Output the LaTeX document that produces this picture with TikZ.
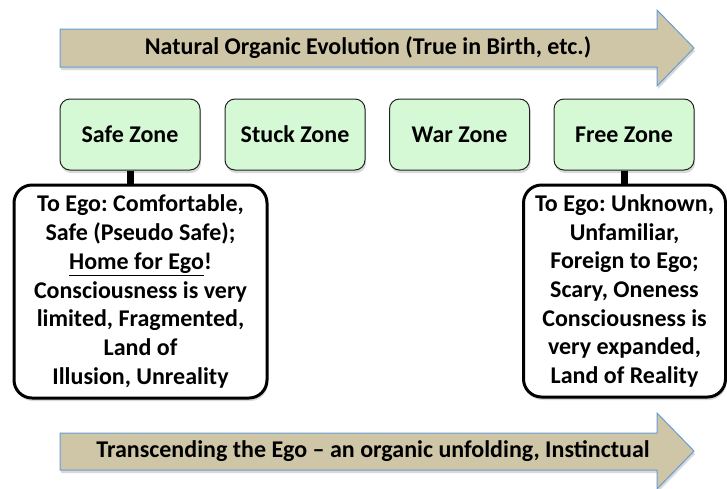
\documentclass[tikz,border=0pt]{standalone}
\usepackage{fontspec}
\setmainfont{Carlito}
\usetikzlibrary{shadows}
\definecolor{arrowfill}{HTML}{CEC6A6}
\definecolor{arrowline}{HTML}{6A9BD3}
\definecolor{zonefill}{HTML}{D5F9D5}
\definecolor{zoneline}{HTML}{222222}
\frenchspacing
\tikzset{
  txt/.style={font=\fontsize{24}{28.7}\selectfont\bfseries\frenchspacing, text=black},
  bigarrow/.style={fill=arrowfill, draw=arrowline, line width=1pt, line join=miter,
    drop shadow={shadow xshift=1pt, shadow yshift=-3pt, opacity=0.3}},
  zonebox/.style={txt, draw=zoneline, fill=zonefill, line width=1pt, rounded corners=10pt,
    minimum width=140pt, minimum height=71pt, inner sep=0pt,
    drop shadow={shadow xshift=1pt, shadow yshift=-3pt, opacity=0.3}},
  detailbox/.style={txt, draw=black, fill=white, line width=3pt, rounded corners=18pt,
    align=center, inner sep=0pt,
    drop shadow={shadow xshift=1pt, shadow yshift=-3pt, opacity=0.3}},
  link/.style={draw=black, line width=7pt}
}
\begin{document}
\begin{tikzpicture}[x=1pt, y=-1pt]
\useasboundingbox (0,0) rectangle (727,488);
% top arrow
\path[bigarrow] (60,29) -- (657,29) -- (657,10) -- (694,48) -- (657,86) -- (657,67) -- (60,67) -- cycle;
\node[txt] (toptext) at (368,48) {Natural Organic Evolution (True in Birth, etc.)};
% bottom arrow
\path[bigarrow] (60,433) -- (657,433) -- (657,413) -- (694,451) -- (657,489) -- (657,470) -- (60,470) -- cycle;
\node[txt] (bottext) at (373,451) {Transcending the Ego -- an organic unfolding, Instinctual};
% zones
\node[zonebox] (safe) at (130,134.5) {Safe Zone};
\node[zonebox] (stuck) at (295,134.5) {Stuck Zone};
\node[zonebox] (war) at (459.5,134.5) {War Zone};
\node[zonebox] (free) at (624,134.5) {Free Zone};
% detail boxes
\node[detailbox, minimum width=253pt, minimum height=213pt] (left) at (140.5,291.5)
  {To Ego: Comfortable,\\Safe (Pseudo Safe);\\\underline{Home for Ego}!\\Consciousness is very\\limited, Fragmented,\\Land of\\Illusion, Unreality};
\node[detailbox, minimum width=202pt, minimum height=212pt] (right) at (624.5,291)
  {To Ego: Unknown,\\Unfamiliar,\\Foreign to Ego;\\Scary, Oneness\\Consciousness is\\very expanded,\\Land of Reality};
% links
\draw[link] (safe.south) -- (safe.south |- left.north);
\draw[link] (free.south) -- (free.south |- right.north);
\end{tikzpicture}
\end{document}
